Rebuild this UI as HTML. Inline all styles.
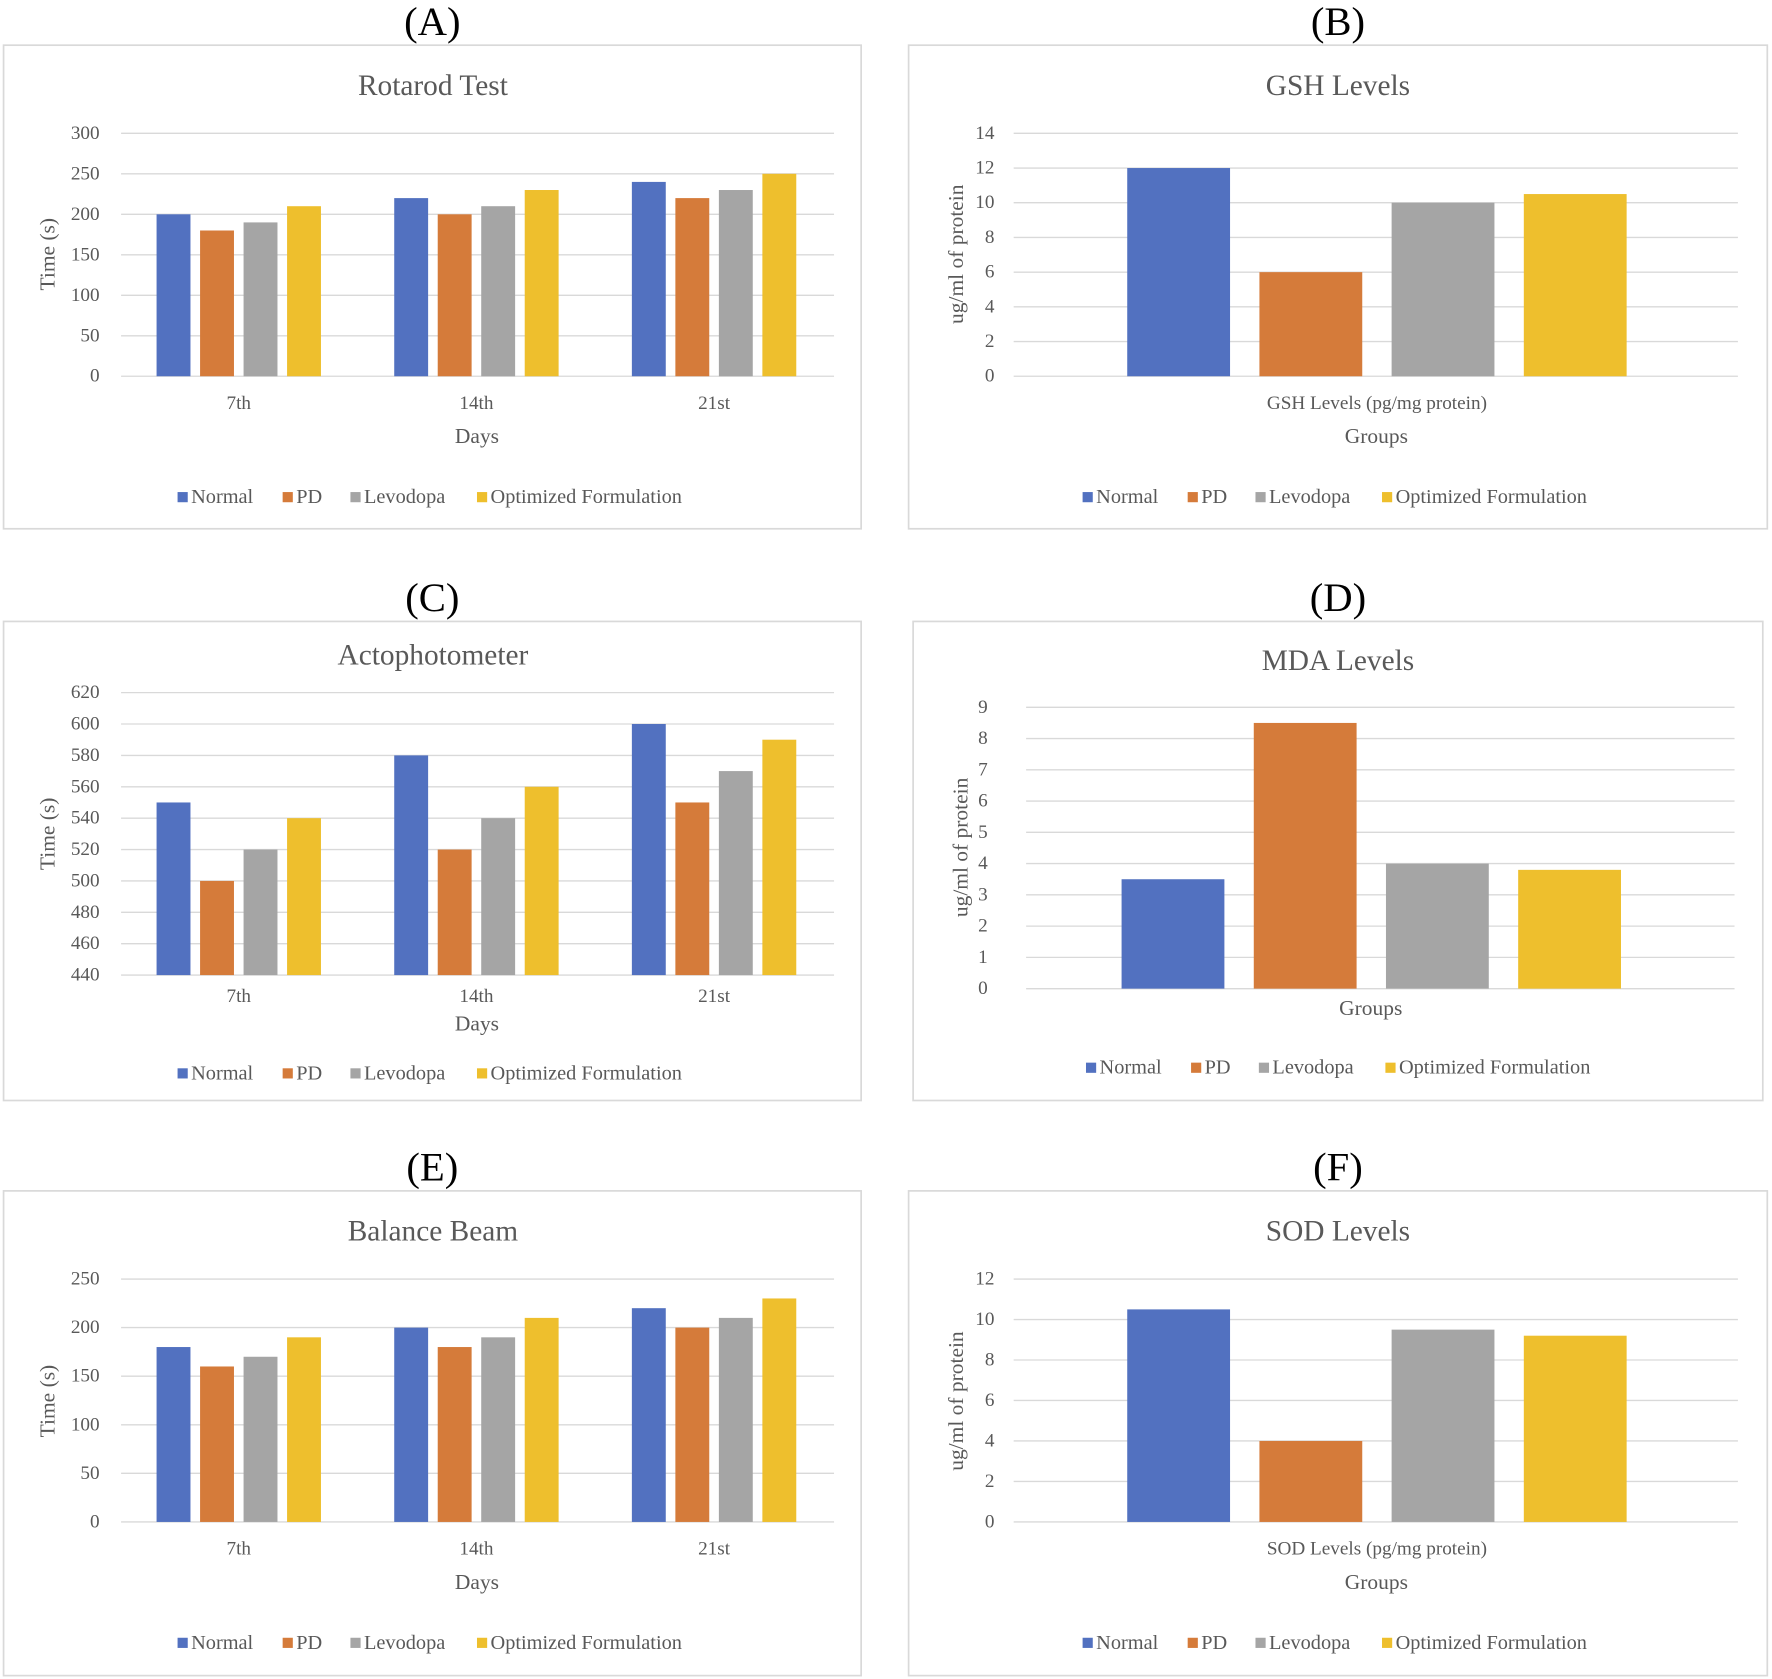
<!DOCTYPE html>
<html><head><meta charset="utf-8"><style>
html,body{margin:0;padding:0;background:#fff;}
svg{display:block;font-family:"Liberation Serif",serif;}
</style></head><body>
<svg id="fig" width="1772" height="1679" viewBox="0 0 1568 1486" xmlns="http://www.w3.org/2000/svg"></svg>
<script>
// ---- data ----
const seriesNames = ["Normal","PD","Levodopa","Optimized Formulation"];
const dayCategories = ["7th","14th","21st"];
const rotarodNormal = [200,220,240];
const rotarodPD = [180,200,220];
const rotarodLevodopa = [190,210,230];
const rotarodOptimized = [210,230,250];
const rotarodTicks = [0,50,100,150,200,250,300];
const actoNormal = [550,580,600];
const actoPD = [500,520,550];
const actoLevodopa = [520,540,570];
const actoOptimized = [540,560,590];
const actoTicks = [440,460,480,500,520,540,560,580,600,620];
const beamNormal = [180,200,220];
const beamPD = [160,180,200];
const beamLevodopa = [170,190,210];
const beamOptimized = [190,210,230];
const beamTicks = [0,50,100,150,200,250];
const gshValues = [12,6,10,10.5];
const gshTicks = [0,2,4,6,8,10,12,14];
const mdaValues = [3.5,8.5,4,3.8];
const mdaTicks = [0,1,2,3,4,5,6,7,8,9];
const sodValues = [10.5,4,9.5,9.2];
const sodTicks = [0,2,4,6,8,10,12];

const colors = ["#5271c0","#d57b3a","#a5a5a5","#eebf2d"];
const svg = document.getElementById('fig');
const NS = "http://www.w3.org/2000/svg";
function mk(tag, attrs, parent){
  const e = document.createElementNS(NS, tag);
  for (const k in attrs) e.setAttribute(k, attrs[k]);
  (parent||svg).appendChild(e); return e;
}
function txt(s, x, y, size, color, parent, anchor){
  const t = mk('text',{x:x,y:y,'font-size':size,fill:color,'text-anchor':anchor||'middle','dominant-baseline':'central'},parent);
  t.textContent = s; return t;
}

function panel(p){
  const g = mk('g',{});
  
  
  const lab = txt(p.letter, (p.bx0+p.bx1)/2, p.by0-21, 36, '#000', g);
  
  
  const box = mk('rect',{x:p.bx0,y:p.by0,width:p.bx1-p.bx0,height:p.by1-p.by0,fill:'#fff',stroke:'#d9d9d9','stroke-width':1.5},g);
  
  
  const title = txt(p.title, p.titleX, p.titleY, 26, '#595959', g);
  
  
  const tmin = p.ticks[0], tmax = p.ticks[p.ticks.length-1];
  const y = v => p.y0 - (v - tmin)/(tmax - tmin)*(p.y0 - p.y1);
  p.ticks.forEach(t=>{
    const l = mk('line',{x1:p.px0,x2:p.px1,y1:y(t),y2:y(t),stroke:'#d9d9d9','stroke-width':1.2},g);
    
    
    const tl = txt(String(t), p.tickX, y(t), 17, '#595959', g, 'end');
    
    
  });
  const yt = txt(p.ytitle, 0, 0, 19, '#595959', g);
  yt.setAttribute('transform','translate('+p.ytX+','+p.ytY+') rotate(-90)');
  
  
  const nCat = p.series[0].length;
  const catW = (p.px1 - p.px0)/nCat;
  const shift = p.shift || 0;
  p.series.forEach((vals, si)=>{
    vals.forEach((v, ci)=>{
      const cx = p.px0 + catW*(ci+0.5) + shift;
      const x = cx + (si - 1.5)*p.step - p.bw/2;
      const r = mk('rect',{x:x,y:y(v),width:p.bw,height:y(tmin)-y(v),fill:colors[si]},g);
      
      
    });
  });
  p.cats.forEach((c, ci)=>{
    const cl = txt(c, p.px0 + catW*(ci+0.5) + shift, p.catY, 17, '#595959', g);
    
    
  });
  const xt = txt(p.xtitle, p.xtX, p.xtY, 19, '#595959', g);
  
  
  const offs = [0, 93, 153, 265];
  seriesNames.forEach((n, i)=>{
    const lg = mk('g',{},g);
    
    
    const lx = p.legX + offs[i];
    mk('rect',{x:lx,y:p.legY-4.5,width:9,height:9,fill:colors[i]},lg);
    txt(n, lx+12, p.legY, 18, '#595959', lg, 'start');
  });
}

const L = {bx0:3,bx1:762,px0:107,px1:738,tickX:88,ytX:42,bw:30,step:38.5,titleX:383,xtX:422,legX:157,shift:-1};
const R = {bx0:804,bx1:1564,px0:897,px1:1538,tickX:880,ytX:846,bw:91,step:117,titleX:1184,xtX:1218,legX:958,shift:1};

panel(Object.assign({}, L, {id:'rotarod',letter:'(A)',by0:40,by1:468,title:'Rotarod Test',titleY:76,
  y0:333,y1:118,ticks:rotarodTicks,ytitle:'Time (s)',ytY:225,
  series:[rotarodNormal,rotarodPD,rotarodLevodopa,rotarodOptimized],cats:dayCategories,catY:357,
  xtitle:'Days',xtY:386,legY:440}));
panel(Object.assign({}, R, {id:'gsh',letter:'(B)',by0:40,by1:468,title:'GSH Levels',titleY:76,
  y0:333,y1:118,ticks:gshTicks,ytitle:'ug/ml of protein',ytY:225,
  series:[[gshValues[0]],[gshValues[1]],[gshValues[2]],[gshValues[3]]],cats:['GSH Levels (pg/mg protein)'],catY:357,
  xtitle:'Groups',xtY:386,legY:440}));
panel(Object.assign({}, L, {id:'actophotometer',letter:'(C)',by0:550,by1:974,title:'Actophotometer',titleY:580,
  y0:863,y1:613,ticks:actoTicks,ytitle:'Time (s)',ytY:738,
  series:[actoNormal,actoPD,actoLevodopa,actoOptimized],cats:dayCategories,catY:882,
  xtitle:'Days',xtY:906,legY:950}));
panel(Object.assign({}, R, {id:'mda',letter:'(D)',bx0:808,bx1:1560,px0:908,px1:1535,tickX:874,ytX:850,
  by0:550,by1:974,title:'MDA Levels',titleY:585,xtX:1213,legX:961,shift:-8,
  y0:875,y1:626,ticks:mdaTicks,ytitle:'ug/ml of protein',ytY:750,
  series:[[mdaValues[0]],[mdaValues[1]],[mdaValues[2]],[mdaValues[3]]],cats:[''],catY:892,
  xtitle:'Groups',xtY:892,legY:945}));
panel(Object.assign({}, L, {id:'balance-beam',letter:'(E)',by0:1054,by1:1483,title:'Balance Beam',titleY:1090,
  y0:1347,y1:1132,ticks:beamTicks,ytitle:'Time (s)',ytY:1240,
  series:[beamNormal,beamPD,beamLevodopa,beamOptimized],cats:dayCategories,catY:1371,
  xtitle:'Days',xtY:1400,legY:1454}));
panel(Object.assign({}, R, {id:'sod',letter:'(F)',by0:1054,by1:1483,title:'SOD Levels',titleY:1090,
  y0:1347,y1:1132,ticks:sodTicks,ytitle:'ug/ml of protein',ytY:1240,
  series:[[sodValues[0]],[sodValues[1]],[sodValues[2]],[sodValues[3]]],cats:['SOD Levels (pg/mg protein)'],catY:1371,
  xtitle:'Groups',xtY:1400,legY:1454}));
</script>
</body></html>
